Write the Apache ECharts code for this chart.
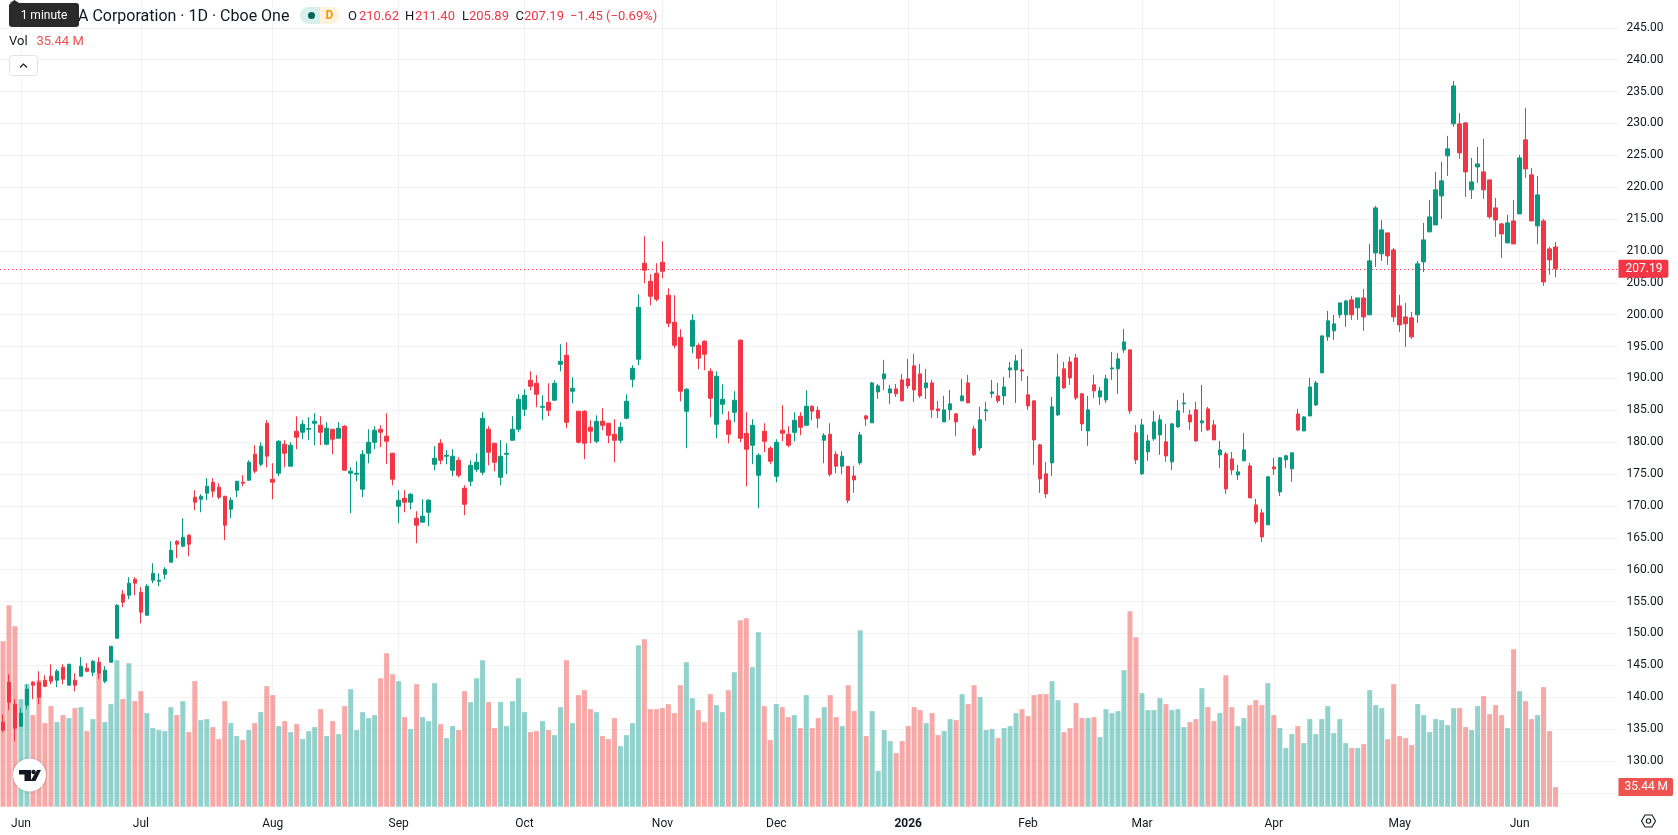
<!DOCTYPE html>
<html>
<head>
<meta charset="utf-8">
<title>Daily candles with volume</title>
<style>html,body{margin:0;padding:0;background:#fff}#chart{width:1678px;height:835px}</style>
<script src="https://cdn.jsdelivr.net/npm/echarts@6/dist/echarts.min.js"></script>
</head>
<body>
<div id="chart"></div>
<script>
// Daily sessions, oldest first.
const opens = [
136.07,142.35,138.90,135.44,138.74,142.35,142.35,142.66,143.29,142.66,
144.70,141.88,142.66,143.29,144.54,143.91,145.48,142.50,145.48,149.25,
156.15,155.99,158.50,156.46,152.86,158.35,158.19,159.29,161.17,164.46,
163.68,165.41,171.37,171.05,171.99,173.72,172.94,171.52,169.48,172.46,
173.72,174.03,178.11,176.54,182.97,174.19,175.13,179.68,176.23,181.72,
181.56,182.03,182.97,182.66,179.68,182.03,180.62,182.50,175.13,174.97,
172.62,178.27,179.99,182.03,180.94,178.27,169.95,171.21,170.58,168.07,
167.45,169.01,176.54,179.84,177.80,175.59,177.16,172.77,173.87,175.75,
175.28,182.03,179.83,174.49,178.10,180.30,182.03,185.16,189.71,189.24,
185.48,186.26,186.58,192.22,193.63,187.99,184.85,184.85,182.34,180.14,
183.28,182.97,181.24,180.30,183.75,189.87,193.01,208.07,205.24,206.50,
208.22,203.05,198.81,196.46,184.85,195.05,195.20,195.83,191.12,182.81,
185.95,183.44,184.69,195.99,181.40,179.52,174.81,181.71,179.05,174.65,
181.87,181.24,181.55,184.07,182.65,185.63,185.01,180.30,181.24,178.10,
176.22,176.22,174.71,176.75,184.12,183.03,187.89,189.93,187.73,188.36,
189.77,189.93,191.97,190.71,188.52,189.30,185.22,183.18,185.07,184.44,
186.48,189.30,182.08,179.10,184.91,187.63,187.26,187.26,191.34,191.34,
191.34,187.42,186.48,179.58,175.03,176.75,184.28,191.50,192.59,193.22,
187.58,181.77,188.99,187.10,186.63,191.50,191.50,194.48,194.48,181.46,
175.03,178.48,180.52,181.14,180.05,176.91,182.40,186.01,184.28,185.07,
183.03,185.22,182.71,178.01,178.16,177.38,174.87,177.07,176.28,170.16,
168.91,167.03,176.12,172.20,177.23,175.82,184.42,181.76,184.11,185.84,
190.87,196.52,197.46,199.97,199.97,202.32,201.07,202.63,199.97,209.69,
209.54,212.83,210.16,201.38,199.65,199.50,199.97,208.28,212.99,214.08,
218.63,224.91,229.93,229.93,230.08,219.58,223.18,222.40,221.14,216.75,
214.24,211.26,214.71,215.81,227.42,221.93,213.93,214.71,210.32,210.62];
const closes = [
134.82,139.21,135.13,137.48,141.25,141.88,139.99,141.72,142.50,144.07,
142.82,145.17,141.88,144.86,144.07,145.64,143.76,144.23,147.99,154.42,
154.90,157.88,157.88,153.33,157.41,159.44,158.35,160.07,163.05,163.99,
165.09,163.99,170.58,171.52,173.09,172.31,171.37,166.97,170.90,173.88,
173.56,176.86,175.45,179.37,177.80,173.72,180.15,178.27,179.52,180.78,
182.82,182.14,183.29,181.56,182.19,180.47,182.19,175.60,175.45,175.13,
178.11,179.99,181.88,181.56,180.15,174.19,170.90,170.58,171.84,166.97,
168.39,170.90,177.48,177.17,177.95,177.79,174.81,170.26,176.38,176.85,
183.75,178.42,176.85,177.79,178.26,182.03,186.73,187.36,188.77,187.52,
185.63,185.01,189.24,192.69,183.12,188.46,179.99,179.83,181.71,183.28,
182.65,181.08,180.30,182.34,186.42,191.59,201.16,206.97,202.89,202.42,
206.81,198.65,195.20,187.99,188.30,199.12,193.16,193.79,186.89,190.34,
186.73,181.24,186.58,180.61,178.89,182.65,177.95,180.14,177.01,179.99,
181.40,179.52,183.44,182.34,185.63,184.85,183.75,181.08,174.97,176.22,
177.79,170.89,174.08,181.14,183.65,189.30,188.83,190.71,188.36,187.58,
186.48,188.83,188.20,187.26,189.30,185.07,184.91,185.07,186.01,183.18,
187.26,186.16,178.01,183.50,185.07,187.89,186.48,188.67,191.65,192.75,
191.18,185.69,180.36,174.24,171.89,185.54,190.24,188.52,190.08,186.95,
182.87,185.07,188.05,188.05,189.93,191.65,193.07,195.73,184.91,177.22,
182.71,180.20,183.18,183.50,177.85,182.87,184.91,186.16,183.18,180.20,
183.34,181.93,180.36,178.79,172.67,175.65,175.34,178.79,171.26,167.50,
165.14,174.56,175.81,177.54,177.86,178.33,181.91,183.95,188.66,189.29,
196.67,199.03,198.56,201.85,202.16,199.97,202.63,199.65,208.44,216.75,
213.30,209.22,199.65,198.40,198.56,196.52,207.97,211.73,215.34,219.58,
220.99,226.01,235.89,225.38,222.40,220.83,223.65,219.58,215.34,214.87,
212.67,214.40,211.10,224.59,222.87,214.71,218.79,205.14,208.59,207.19];
const highs = [
137.33,143.60,139.68,138.27,142.03,142.50,144.07,143.44,145.17,144.39,
145.17,145.17,143.76,146.27,145.33,145.80,146.27,144.86,147.99,154.58,
156.78,158.82,158.82,157.25,157.72,161.01,159.44,160.39,164.46,164.62,
168.07,165.56,172.46,171.84,174.35,174.35,173.56,171.52,171.37,173.88,
174.82,177.17,179.52,179.99,183.45,176.70,180.31,180.31,179.99,184.07,
183.45,183.92,184.54,184.07,183.13,182.03,183.13,182.66,176.07,177.01,
178.74,182.03,182.50,182.66,184.54,178.27,172.46,172.46,171.99,169.17,
171.05,171.05,179.37,180.47,178.74,178.89,177.63,173.24,177.16,178.26,
184.69,182.50,179.83,180.30,179.83,184.07,187.52,188.30,191.12,190.50,
187.36,189.24,189.71,195.36,195.67,190.18,184.85,185.01,183.44,184.22,
185.32,182.97,183.59,183.12,187.52,192.07,203.20,212.30,206.34,208.07,
211.52,204.14,203.05,197.71,188.46,200.07,195.52,195.99,191.59,191.12,
189.08,184.85,187.99,196.14,184.69,183.59,178.26,182.97,179.36,180.46,
185.79,182.50,184.69,184.69,188.14,185.79,185.63,181.40,182.97,178.57,
178.57,176.22,176.28,181.61,184.28,189.46,189.14,192.91,188.99,189.14,
190.71,193.07,193.85,192.28,191.50,189.77,186.48,187.26,188.20,184.60,
189.93,190.56,182.56,185.54,186.32,189.77,189.30,190.24,192.59,193.69,
194.63,190.40,186.48,179.73,176.91,187.10,193.85,192.59,193.38,193.85,
187.73,187.26,190.56,188.67,190.56,194.16,194.01,197.77,194.48,182.71,
183.65,181.14,184.91,184.28,182.87,183.03,186.63,187.73,185.07,186.32,
188.99,185.54,183.50,180.20,178.48,178.48,176.44,181.46,176.75,171.10,
169.54,174.71,177.54,177.69,178.01,178.33,185.21,184.11,190.07,189.60,
196.67,200.59,199.97,201.85,202.32,202.95,202.63,204.05,211.10,217.07,
214.87,212.83,210.48,203.10,201.85,200.44,208.44,214.40,218.01,222.40,
223.97,228.05,236.67,231.65,230.24,224.59,226.32,227.58,221.14,218.32,
214.40,215.65,218.01,225.07,232.44,223.03,221.77,215.03,210.63,211.40];
const lows = [
134.50,137.95,133.09,135.44,138.11,139.68,138.90,141.56,142.03,141.56,
142.03,141.88,140.93,143.29,143.91,143.29,142.82,142.19,145.48,149.25,
154.11,155.37,155.99,151.60,152.86,157.88,157.41,158.50,161.17,161.80,
163.52,162.11,169.33,169.01,170.90,171.37,171.05,164.62,168.07,171.37,
173.09,174.03,175.13,176.23,176.07,171.05,174.66,176.07,176.23,178.90,
180.47,180.31,179.52,179.52,179.52,178.11,180.62,175.60,168.86,173.88,
171.37,176.70,178.90,179.21,176.54,173.25,167.29,169.01,169.48,164.15,
167.45,166.82,175.60,176.54,176.54,174.65,174.49,168.54,173.08,175.28,
174.81,176.38,175.44,173.24,174.97,180.30,181.55,184.07,188.14,185.48,
183.44,184.07,186.58,191.12,182.18,186.10,179.83,177.32,179.83,179.83,
181.87,179.83,176.85,179.83,183.59,188.61,192.07,204.93,201.48,202.10,
205.71,198.03,194.73,186.42,179.05,193.95,191.44,191.28,183.91,180.61,
184.38,179.83,183.12,179.99,173.08,176.54,169.63,178.42,176.54,173.71,
180.14,179.20,180.14,181.08,182.50,183.44,182.18,176.69,174.65,175.12,
174.97,170.42,172.05,176.44,182.56,183.03,186.79,188.20,186.01,187.10,
186.48,188.36,186.32,186.95,186.79,183.81,183.81,183.18,183.50,180.99,
186.48,186.16,177.85,178.63,183.34,186.95,186.16,185.85,190.08,186.16,
189.61,185.07,176.44,172.05,171.26,174.71,184.12,188.36,188.99,186.63,
181.77,179.42,186.95,185.85,186.16,189.77,187.58,194.01,184.44,176.59,
174.87,177.07,180.20,178.01,176.91,175.65,182.24,184.60,181.93,180.05,
181.61,181.77,180.36,175.97,171.89,174.87,174.08,177.07,171.26,167.18,
164.36,167.03,174.87,171.57,175.97,173.78,181.76,181.76,184.11,185.68,
190.87,195.89,196.05,199.50,198.08,199.18,199.18,197.46,199.97,207.50,
208.44,207.81,198.87,197.30,194.95,196.20,198.71,206.71,212.99,214.08,
215.03,221.77,229.46,224.44,218.48,218.16,220.67,218.16,215.03,212.20,
208.91,211.26,211.10,215.81,221.46,214.71,211.10,204.52,206.24,205.89];
// Shares traded per session, in millions.
const volumes = [
298.2,363.0,325.2,193.8,220.8,165.0,228.0,150.6,181.2,152.4,
165.0,159.6,177.6,179.4,136.2,157.8,240.6,152.4,184.8,264.0,
193.8,258.6,190.2,208.2,168.6,141.6,138.0,136.2,179.4,165.0,
190.2,134.4,226.2,156.0,157.8,143.4,121.8,190.2,150.6,127.2,
120.0,138.0,150.6,170.4,217.2,201.0,145.2,154.2,134.4,148.8,
121.8,136.2,143.4,175.8,127.2,154.2,130.8,181.2,211.8,138.0,
170.4,159.6,165.0,231.6,276.6,238.8,226.2,161.4,139.8,220.8,
161.4,154.2,222.6,148.8,123.6,145.2,138.0,208.2,188.4,231.6,
264.0,188.4,141.6,188.4,145.2,190.2,231.6,170.4,134.4,136.2,
154.2,138.0,129.0,179.4,264.0,150.6,201.0,210.0,175.8,170.4,
127.2,121.8,159.6,109.2,129.0,150.6,291.0,301.8,175.8,175.8,
177.6,184.8,168.6,219.0,260.4,195.6,174.0,152.4,202.8,183.0,
170.4,210.0,242.4,336.0,339.6,251.4,314.4,181.2,120.0,184.8,
179.4,161.4,165.0,141.6,201.0,141.6,159.6,179.4,201.0,161.4,
145.2,219.0,172.2,318.0,127.2,172.2,64.2,138.0,118.2,96.6,
118.2,145.2,179.4,174.0,150.6,168.6,129.0,136.2,157.8,156.0,
202.8,184.8,219.0,197.4,138.0,139.8,123.6,141.6,145.2,168.6,
175.8,163.2,201.0,202.8,202.8,226.2,192.0,134.4,141.6,186.6,
159.6,159.6,161.4,125.4,175.8,168.6,172.2,246.0,352.2,305.4,
204.6,174.0,174.0,195.6,184.8,174.0,175.8,143.4,152.4,157.8,
213.6,179.4,154.2,168.6,237.0,179.4,145.2,159.6,183.0,192.0,
183.0,222.6,165.0,141.6,105.6,130.8,145.2,114.6,157.8,130.8,
157.8,181.2,132.6,157.8,114.6,105.6,105.6,112.8,210.0,183.0,
177.6,121.8,220.8,127.2,123.6,111.0,184.8,165.0,134.4,157.8,
156.0,147.0,177.6,177.6,143.4,138.0,181.2,199.2,166.8,183.0,
165.0,141.6,283.8,208.2,190.2,157.8,165.0,215.4,136.2,35.44];

// Time axis: session index of each month start and its label.
const monthTickIndex = [3,23,45,66,87,110,129,151,171,190,212,233,253];
const monthTickLabels = ['Jun','Jul','Aug','Sep','Oct','Nov','Dec','2026','Feb','Mar','Apr','May','Jun'];
const emptySessionsRight = 10;

const lastClose = 207.19;
const lastVolume = 35.44;

const UP = '#089981', DOWN = '#F23645';
const UP_VOL = 'rgba(38,166,154,0.5)', DOWN_VOL = 'rgba(239,83,80,0.5)';
const GRID = 'rgba(46,46,46,0.06)';
const TEXT = '#131722';
const FONT = 'Roboto, "Noto Sans", sans-serif';

const sessionCount = opens.length + emptySessionsRight;
const categories = Array.from({length: sessionCount}, (_, i) => String(i));
const candleData = opens.map((o, i) => [o, closes[i], lows[i], highs[i]]);
const volumeData = volumes.map((v, i) => ({
  value: v,
  itemStyle: {color: closes[i] >= opens[i] ? UP_VOL : DOWN_VOL}
}));
const tickLabelAt = new Map(monthTickIndex.map((k, i) => [k, monthTickLabels[i]]));

const txt = (text, x, y, fill, font, extra, z) => ({
  type: 'text', silent: true, z: z || 50,
  style: Object.assign({text, x, y, fill, font, textVerticalAlign: 'middle'}, extra || {})
});

const chart = echarts.init(document.getElementById('chart'), null, {renderer: 'canvas', width: 1678, height: 835});

const legendFont = '13px ' + FONT;
chart.setOption({
  animation: false,
  backgroundColor: '#ffffff',
  grid: [
    {left: -1.5, top: 27.8, width: 1620, height: 765, containLabel: false},
    {left: -1.5, top: 0, width: 1620, height: 806.7, containLabel: false}
  ],
  xAxis: [
    {type: 'category', gridIndex: 0, data: categories, axisLine: {show: false}, axisTick: {show: false},
     axisLabel: {show: false}, splitLine: {show: false}},
    {type: 'category', gridIndex: 1, data: categories, axisLine: {show: false}, axisTick: {show: false},
     splitLine: {show: true, alignWithLabel: true, interval: i => tickLabelAt.has(i), lineStyle: {color: GRID, width: 1}},
     axisLabel: {
       show: true, margin: 11, interval: i => tickLabelAt.has(i),
       hideOverlap: false,
       formatter: (v, i) => {
         const t = tickLabelAt.get(i);
         return t === undefined ? '' : (/^\d+$/.test(t) ? '{year|' + t + '}' : t);
       },
       color: TEXT, fontFamily: FONT, fontSize: 12,
       rich: {year: {fontWeight: 'bold', fontFamily: FONT, fontSize: 12, color: TEXT}}
     }}
  ],
  yAxis: [
    {type: 'value', gridIndex: 0, position: 'right', min: 125, max: 245, interval: 5, scale: true,
     axisLine: {show: false}, axisTick: {show: false},
     splitLine: {show: true, lineStyle: {color: GRID, width: 1}},
     axisLabel: {margin: 8, color: TEXT, fontFamily: FONT, fontSize: 12,
       formatter: v => v === 125 ? '' : v.toFixed(2)}},
    {type: 'value', gridIndex: 1, min: 0, max: 806.7 * 35.44 / 19.67, show: false, splitLine: {show: false}}
  ],
  series: [
    {
      type: 'bar', name: 'Vol', xAxisIndex: 1, yAxisIndex: 1, data: volumeData, barWidth: 5, z: 2, silent: true,
      markLine: {
        silent: true, symbol: 'none', animation: false,
        lineStyle: {color: 'rgba(0,0,0,0)', width: 0},
        data: [{yAxis: lastVolume}],
        label: {
          show: true, position: 'end', distance: 0, formatter: '35.44 M',
          backgroundColor: '#EF5350', color: '#fff', fontFamily: FONT, fontSize: 12,
          padding: [3, 5, 3, 6], borderRadius: [0, 2, 2, 0]
        }
      }
    },
    {
      type: 'candlestick', name: 'Price', xAxisIndex: 0, yAxisIndex: 0, data: candleData, barWidth: 4, z: 5, silent: true, clip: false,
      itemStyle: {color: UP, color0: DOWN, borderColor: UP, borderColor0: DOWN, borderWidth: 1},
      markLine: {
        silent: true, symbol: 'none', animation: false,
        lineStyle: {color: DOWN, type: [1, 3], width: 1},
        data: [{yAxis: lastClose}],
        label: {
          show: true, position: 'end', distance: 0, formatter: lastClose.toFixed(2),
          backgroundColor: DOWN, color: '#fff', fontFamily: FONT, fontSize: 12,
          padding: [3, 6, 3, 7], borderRadius: [0, 2, 2, 0]
        }
      }
    }
  ],
  graphic: [
    // Header line
    txt('A Corporation \u00B7 1D \u00B7 Cboe One', 78, 17, TEXT, '16px ' + FONT),
    {type: 'rect', shape: {x: 300, y: 7, width: 20, height: 17, r: [8.5, 0, 0, 8.5]}, style: {fill: '#D9EFEC'}, silent: true, z: 50},
    {type: 'rect', shape: {x: 320, y: 7, width: 20, height: 17, r: [0, 8.5, 8.5, 0]}, style: {fill: '#FFF3E0'}, silent: true, z: 50},
    {type: 'circle', shape: {cx: 311.5, cy: 15.5, r: 3.5}, style: {fill: '#056656'}, silent: true, z: 51},
    txt('D', 329.5, 15.5, '#FF9800', 'bold 12px ' + FONT, {textAlign: 'center'}, 51),
    txt('O', 348, 17, TEXT, legendFont),
    txt('210.62', 359, 17, DOWN, legendFont),
    txt('H', 405, 17, TEXT, legendFont),
    txt('211.40', 415, 17, DOWN, legendFont),
    txt('L', 462, 17, TEXT, legendFont),
    txt('205.89', 469, 17, DOWN, legendFont),
    txt('C', 515.5, 17, TEXT, legendFont),
    txt('207.19', 524, 17, DOWN, legendFont),
    txt('\u22121.45 (\u22120.69%)', 570, 17, DOWN, legendFont),
    txt('Vol', 9, 41.5, TEXT, legendFont),
    txt('35.44 M', 36.5, 41.5, '#EF5350', legendFont),
    // Collapse button
    {type: 'rect', shape: {x: 9.5, y: 55.5, width: 28, height: 20, r: 3}, style: {fill: '#fff', stroke: '#E0E3EB', lineWidth: 1}, silent: true, z: 50},
    {type: 'polyline', shape: {points: [[20, 67.5], [23.5, 64], [27, 67.5]]}, style: {stroke: TEXT, lineWidth: 1.2, fill: null}, silent: true, z: 51},
    // Hover tip over the header
    {type: 'rect', shape: {x: 9, y: 3, width: 70, height: 24, r: 3}, style: {fill: '#2A2A2A'}, silent: true, z: 60},
    {type: 'polygon', shape: {points: [[10, 3], [14.5, 0], [19, 3]]}, style: {fill: '#2A2A2A'}, silent: true, z: 60},
    txt('1 minute', 44, 15.5, '#ffffff', '12px ' + FONT, {textAlign: 'center'}, 61),
    // Logo badge
    {type: 'circle', shape: {cx: 29.5, cy: 775, r: 16.5}, style: {fill: '#fff', shadowBlur: 3, shadowColor: 'rgba(0,0,0,0.25)'}, silent: true, z: 50},
    {type: 'polygon', shape: {points: [[19, 770], [31, 770], [31, 781], [24.5, 781], [24.5, 774.5], [19, 774.5]]}, style: {fill: '#131722'}, silent: true, z: 51},
    {type: 'circle', shape: {cx: 33.5, cy: 772, r: 2.2}, style: {fill: '#131722'}, silent: true, z: 51},
    {type: 'polygon', shape: {points: [[37, 770], [41, 770], [35.5, 781], [30.5, 781]]}, style: {fill: '#131722'}, silent: true, z: 51},
    // Scale settings icon
    {type: 'polygon', shape: {points: [[1641.5, 821], [1645, 815], [1652, 815], [1655.5, 821], [1652, 827], [1645, 827]]},
     style: {fill: null, stroke: TEXT, lineWidth: 1.1}, silent: true, z: 50},
    {type: 'circle', shape: {cx: 1648.5, cy: 821, r: 2.2}, style: {fill: null, stroke: TEXT, lineWidth: 1.1}, silent: true, z: 50}
  ]
});
</script>
</body>
</html>
